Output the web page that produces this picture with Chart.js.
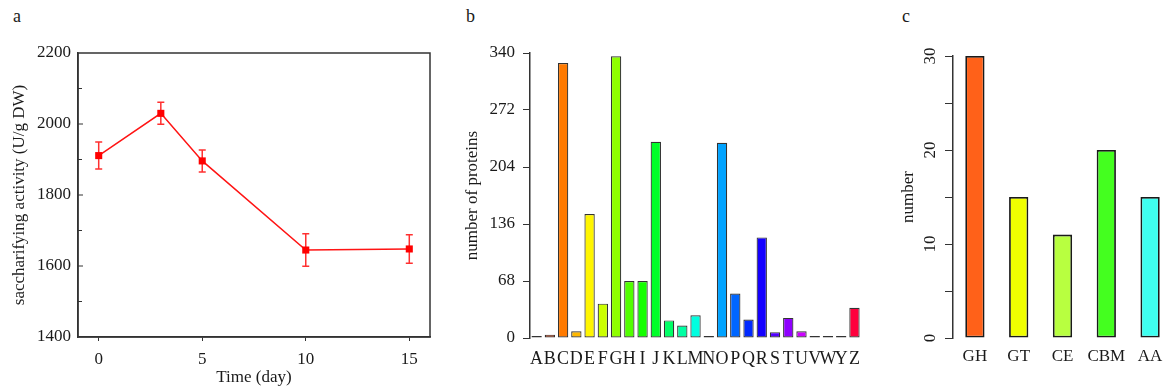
<!DOCTYPE html>
<html>
<head>
<meta charset="utf-8">
<script src="https://cdn.jsdelivr.net/npm/chart.js@4.4.0/dist/chart.umd.min.js"></script>
<style>
body { margin:0; width:1164px; height:389px; overflow:hidden; background:#fff; position:relative; }
canvas { position:absolute; top:0; }
.tag { position:absolute; font-family:"Liberation Serif", serif; font-size:18px; line-height:18px; color:#1a1a1a; }
</style>
</head>
<body>
<div class="tag" style="left:13px;top:7px">a</div>
<div class="tag" style="left:466px;top:7px">b</div>
<div class="tag" style="left:902px;top:7px">c</div>
<canvas id="chartA" width="445" height="389" style="left:0"></canvas>
<canvas id="chartB" width="425" height="389" style="left:445px"></canvas>
<canvas id="chartC" width="302" height="389" style="left:870px"></canvas>
<script>
// panel a - saccharifying activity over time
const days = [0, 3, 5, 10, 15];
const activity = [1911, 2030, 1896, 1645, 1648];
const activityErr = [38, 31, 31, 46, 40];
const dayTicks = [0, 5, 10, 15];

// panel b - COG categories
const cogLetters = ["A","B","C","D","E","F","G","H","I","J","K","L","M","N","O","P","Q","R","S","T","U","V","W","Y","Z"];
const cogCounts = [1, 4, 328, 8, 148, 41, 336, 68, 68, 234, 21, 15, 27, 0, 233, 53, 22, 120, 7, 24, 8, 0, 0, 0, 36];
const cogColors = ["#ff0000","#ff3d00","#ff7a00","#ffb800","#fff500","#ccff00","#8fff00","#52ff00","#14ff00","#00ff29",
  "#00ff66","#00ffa3","#00ffe0","#00e0ff","#00a3ff","#0066ff","#0029ff","#1400ff","#5200ff","#8f00ff",
  "#cc00ff","#ff00f5","#ff00b8","#ff007a","#ff003d"];

// panel c - CAZy classes
const cazyClasses = ["GH", "GT", "CE", "CBM", "AA"];
const cazyCounts = [30, 15, 11, 20, 15];
const cazyColors = ["#ff6119", "#f0ff00", "#b8ff40", "#44ff1f", "#3ffff0"];

const serif = "'Liberation Serif', 'Times New Roman', serif";
const ink = "#1a1a1a";
const axisCol = "#333";
Chart.defaults.font.family = serif;
Chart.defaults.color = ink;

const noPlugins = { legend: { display: false }, tooltip: { enabled: false } };

// frame, inward ticks and error bars for panel a
const panelAExtras = {
  id: "panelAExtras",
  beforeDatasetsDraw(chart) {
    const ctx = chart.ctx;
    const xs = chart.scales.x, ys = chart.scales.y;
    ctx.save();
    ctx.strokeStyle = "#ff3030";
    ctx.lineWidth = 1.5;
    days.forEach((d, i) => {
      const x = xs.getPixelForValue(d);
      const yt = ys.getPixelForValue(activity[i] + activityErr[i]);
      const yb = ys.getPixelForValue(activity[i] - activityErr[i]);
      ctx.beginPath();
      ctx.moveTo(x, yt); ctx.lineTo(x, yb);
      ctx.moveTo(x - 3.5, yt); ctx.lineTo(x + 3.5, yt);
      ctx.moveTo(x - 3.5, yb); ctx.lineTo(x + 3.5, yb);
      ctx.stroke();
    });
    ctx.restore();
  },
  afterDraw(chart) {
    const ctx = chart.ctx;
    const a = chart.chartArea;
    const ys = chart.scales.y;
    ctx.save();
    ctx.strokeStyle = axisCol;
    ctx.lineWidth = 1.5;
    ctx.strokeRect(a.left, a.top, a.right - a.left, a.bottom - a.top);
    ctx.lineWidth = 1;
    for (let v = ys.min + 100; v < ys.max; v += 100) {
      const y = ys.getPixelForValue(v);
      ctx.beginPath();
      ctx.moveTo(a.left, y);
      ctx.lineTo(a.left + (v % 200 === 0 ? 5 : 4), y);
      ctx.stroke();
    }
    ctx.restore();
  }
};

new Chart(document.getElementById("chartA"), {
  type: "line",
  data: {
    datasets: [{
      data: days.map((d, i) => ({ x: d, y: activity[i] })),
      borderColor: "#ff1414",
      backgroundColor: "#ff0000",
      borderWidth: 1.5,
      pointStyle: "rect",
      pointRadius: 5,
      pointBorderWidth: 0
    }]
  },
  options: {
    responsive: false,
    animation: false,
    layout: { padding: { top: 53, right: 15, left: 0, bottom: 0 } },
    plugins: noPlugins,
    scales: {
      x: {
        type: "linear", min: -1, max: 16,
        afterBuildTicks: s => { s.ticks = dayTicks.map(v => ({ value: v })); },
        ticks: { font: { size: 17 }, color: ink, padding: 8, callback: v => String(v) },
        grid: { drawOnChartArea: false, tickLength: 4, color: axisCol },
        border: { color: axisCol, width: 1.5 },
        title: { display: true, text: "Time (day)", font: { size: 17 }, color: ink, padding: { bottom: 1 } },
        afterFit: s => { s.height = 52; }
      },
      y: {
        min: 1400, max: 2200,
        ticks: { stepSize: 200, font: { size: 17 }, color: ink, padding: 7, callback: v => String(v) },
        grid: { display: false, drawTicks: false },
        border: { color: axisCol, width: 1.5 },
        title: { display: true, text: "saccharifying activity (U/g DW)", font: { size: 17 }, color: ink, padding: { top: 9 } },
        afterFit: s => { s.width = 78; }
      }
    }
  },
  plugins: [panelAExtras]
});

new Chart(document.getElementById("chartB"), {
  type: "bar",
  data: {
    labels: cogLetters,
    datasets: [{
      data: cogCounts,
      backgroundColor: cogColors,
      borderColor: "#333",
      borderWidth: 1.2,
      borderSkipped: false,
      categoryPercentage: 1,
      barPercentage: 0.78,
      minBarLength: 2
    }]
  },
  options: {
    responsive: false,
    animation: false,
    layout: { padding: { top: 53, right: 2, left: 0, bottom: 0 } },
    plugins: noPlugins,
    scales: {
      x: {
        grid: { display: false, drawTicks: false },
        border: { display: false },
        ticks: { font: { size: 18 }, color: ink, padding: 10, autoSkip: false, maxRotation: 0 },
        afterFit: s => { s.height = 51; }
      },
      y: {
        min: 0, max: 340,
        ticks: { stepSize: 68, font: { size: 17 }, color: ink, padding: 8 },
        grid: { drawOnChartArea: false, tickLength: 7, color: axisCol },
        border: { color: axisCol, width: 1.5 },
        title: { display: true, text: "number of proteins", font: { size: 17 }, color: ink, padding: { top: 17 } },
        afterFit: s => { s.width = 85; }
      }
    }
  }
});

new Chart(document.getElementById("chartC"), {
  type: "bar",
  data: {
    labels: cazyClasses,
    datasets: [{
      data: cazyCounts,
      backgroundColor: cazyColors,
      borderColor: "#1a1a1a",
      borderWidth: 1.8,
      borderSkipped: false,
      categoryPercentage: 1,
      barPercentage: 0.44
    }]
  },
  options: {
    responsive: false,
    animation: false,
    layout: { padding: { top: 56, right: 0, left: 0, bottom: 0 } },
    plugins: noPlugins,
    scales: {
      x: {
        grid: { display: false, drawTicks: false },
        border: { display: false },
        ticks: { font: { size: 17 }, color: ink, padding: 8, autoSkip: false, maxRotation: 0 },
        afterFit: s => { s.height = 51; }
      },
      y: {
        min: 0, max: 30,
        ticks: {
          stepSize: 5, font: { size: 17 }, color: ink, padding: 6,
          minRotation: 90, maxRotation: 90, crossAlign: "center",
          callback: v => (v % 10 === 0 ? String(v) : "")
        },
        grid: { drawOnChartArea: false, tickLength: 8, color: axisCol },
        border: { color: axisCol, width: 1.5 },
        title: { display: true, text: "number", font: { size: 17 }, color: ink, padding: { top: 28 } },
        afterFit: s => { s.width = 83; }
      }
    }
  }
});
</script>
</body>
</html>
